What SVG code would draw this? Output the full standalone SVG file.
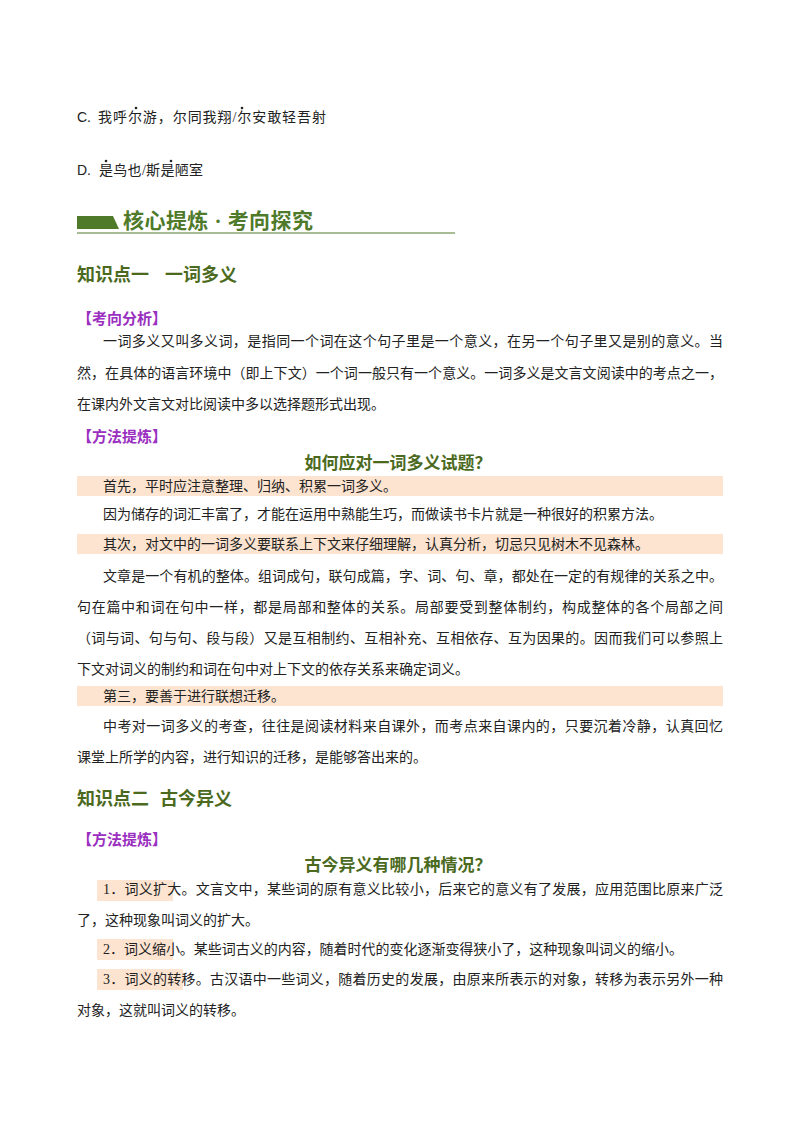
<svg xmlns="http://www.w3.org/2000/svg" width="800" height="1132" viewBox="0 0 800 1132">
<style>
text{font-family:"Liberation Serif","Noto Sans CJK SC",serif;font-size:14px;fill:#222}
.h{font-weight:bold;fill:#4b6a1e;font-size:18px}
.t{font-weight:bold;fill:#4b6a1e;font-size:17px;text-anchor:middle}
.p{fill:#9a2fc0;font-size:15px;font-weight:bold}
.hl{fill:#fde4d0}
.s{font-family:"Liberation Sans","Noto Sans CJK SC",sans-serif}
</style>
<rect width="800" height="1132" fill="#fff"/>
<text x="77" y="122" class="s">C.</text><text x="98" y="122" textLength="228">我呼尔游，尔同我翔/尔安敢轻吾射</text>
<circle cx="136" cy="108" r="1.3" fill="#222"/><circle cx="242" cy="108" r="1.3" fill="#222"/>
<text x="77" y="175" class="s">D.</text><text x="99" y="175" textLength="104">是鸟也/斯是陋室</text>
<circle cx="106" cy="161" r="1.3" fill="#222"/><circle cx="171" cy="161" r="1.3" fill="#222"/>
<polygon points="77,216 113,216 119,229 77,229" fill="#4e7a2a"/>
<text x="123" y="228" textLength="190" style="font-size:21px;font-weight:bold;fill:#4e7a2a">核心提炼 · 考向探究</text>
<line x1="77" y1="233" x2="455" y2="233" stroke="#4e7a2a" stroke-width="1"/>
<text x="77" y="281" class="h">知识点一</text><text x="165" y="281" class="h">一词多义</text>
<text x="77" y="324" class="p">【考向分析】</text>
<text x="103" y="346" textLength="620">一词多义又叫多义词，是指同一个词在这个句子里是一个意义，在另一个句子里又是别的意义。当</text>
<text x="77" y="378" textLength="646">然，在具体的语言环境中（即上下文）一个词一般只有一个意义。一词多义是文言文阅读中的考点之一，</text>
<text x="77" y="409">在课内外文言文对比阅读中多以选择题形式出现。</text>
<text x="77" y="442" class="p">【方法提炼】</text>
<text x="398" y="469" class="t">如何应对一词多义试题？</text>
<rect class="hl" x="77" y="476" width="646" height="20"/>
<text x="103" y="491">首先，平时应注意整理、归纳、积累一词多义。</text>
<text x="103" y="519">因为储存的词汇丰富了，才能在运用中熟能生巧，而做读书卡片就是一种很好的积累方法。</text>
<rect class="hl" x="77" y="534" width="646" height="20"/>
<text x="103" y="549">其次，对文中的一词多义要联系上下文来仔细理解，认真分析，切忌只见树木不见森林。</text>
<text x="103" y="581" textLength="620">文章是一个有机的整体。组词成句，联句成篇，字、词、句、章，都处在一定的有规律的关系之中。</text>
<text x="77" y="612" textLength="646">句在篇中和词在句中一样，都是局部和整体的关系。局部要受到整体制约，构成整体的各个局部之间</text>
<text x="77" y="643" textLength="646">（词与词、句与句、段与段）又是互相制约、互相补充、互相依存、互为因果的。因而我们可以参照上</text>
<text x="77" y="674">下文对词义的制约和词在句中对上下文的依存关系来确定词义。</text>
<rect class="hl" x="77" y="686" width="646" height="20"/>
<text x="103" y="701">第三，要善于进行联想迁移。</text>
<text x="103" y="731" textLength="620">中考对一词多义的考查，往往是阅读材料来自课外，而考点来自课内的，只要沉着冷静，认真回忆</text>
<text x="77" y="762">课堂上所学的内容，进行知识的迁移，是能够答出来的。</text>
<text x="77" y="805" class="h">知识点二</text><text x="160" y="805" class="h">古今异义</text>
<text x="77" y="845" class="p">【方法提炼】</text>
<text x="398" y="871" class="t">古今异义有哪几种情况？</text>
<rect class="hl" x="97" y="880" width="76" height="21"/>
<rect class="hl" x="97" y="939" width="76" height="21"/>
<rect class="hl" x="97" y="969" width="86" height="21"/>
<text x="103" y="894" textLength="620">1．词义扩大。文言文中，某些词的原有意义比较小，后来它的意义有了发展，应用范围比原来广泛</text>
<text x="77" y="925">了，这种现象叫词义的扩大。</text>
<text x="103" y="954" textLength="580">2．词义缩小。某些词古义的内容，随着时代的变化逐渐变得狭小了，这种现象叫词义的缩小。</text>
<text x="103" y="984" textLength="620">3．词义的转移。古汉语中一些词义，随着历史的发展，由原来所表示的对象，转移为表示另外一种</text>
<text x="77" y="1015">对象，这就叫词义的转移。</text>
</svg>
